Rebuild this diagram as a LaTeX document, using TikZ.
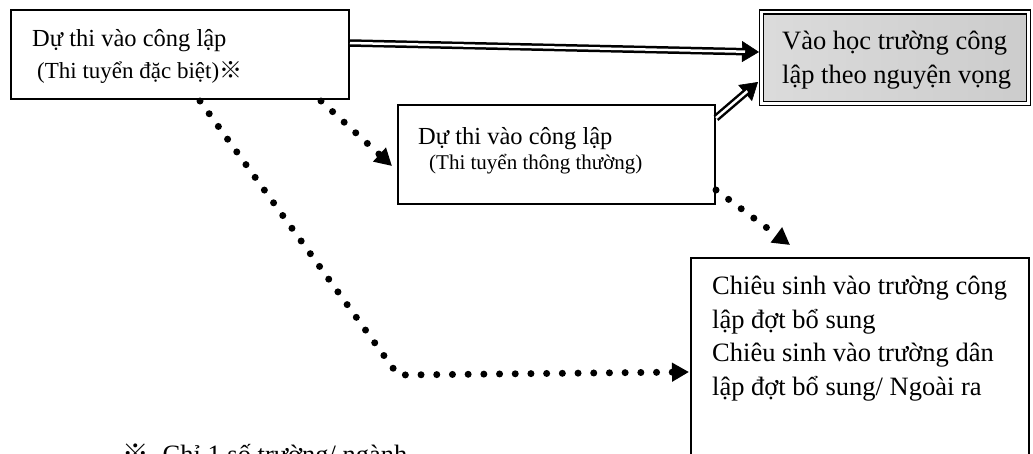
\documentclass[tikz,border=0pt]{standalone}
\usepackage{fontspec}
\setmainfont{Liberation Serif}
\newfontfamily\cjk{Noto Sans CJK JP}
\usetikzlibrary{arrows.meta,calc}
\begin{document}
\begin{tikzpicture}[x=1pt,y=-1pt,
  box/.style={draw, line width=1.8pt, inner sep=0pt, fill=white},
  big/.style={anchor=base west, inner sep=0pt, font=\fontsize{24.5}{30}\selectfont},
  multi/.style={anchor=north west, inner sep=0pt, align=left, font=\fontsize{26.5}{33.5}\selectfont},
  dotline/.style={line width=7pt, line cap=round, dash pattern=on 0pt off 15.7pt,
     -{Triangle[length=17pt,width=18pt]}},
  dblshaft/.style={line width=2.5pt, double=white, double distance=2.5pt, shorten >=14pt},
  dbltip/.style={line width=0.6pt, -{Triangle[length=17pt,width=21pt]}}]
\useasboundingbox (0,0) rectangle (1033,453);

% boxes
\node[box, minimum width=338pt, minimum height=89pt] (A) at (180,54.5) {};
\node[box, minimum width=317pt, minimum height=99pt] (B) at (556.5,154.5) {};
\node[box, minimum width=338pt, minimum height=222pt] (C) at (860,369) {};
\node[draw, line width=1.3pt, double=white, double distance=2.5pt, inner sep=0pt,
      minimum width=267pt, minimum height=91.5pt,
      left color=gray!28, middle color=gray!4, right color=gray!40] (V) at (895,57.75) {};

% texts
\node[big] (tA1) at (32,46) {Dự thi vào công lập};
\node[big, font=\fontsize{23}{28}\selectfont] (tA2) at (37,78) {(Thi tuyển đặc biệt){\cjk ※}};
\node[big] (tB1) at (418,144) {Dự thi vào công lập};
\node[big, font=\fontsize{21}{25}\selectfont] (tB2) at (429,169) {(Thi tuyển thông thường)};
\node[multi] (tV) at (782,31) {Vào học trường công\\lập theo nguyện vọng};
\node[multi] (tC) at (712,276) {Chiêu sinh vào trường công\\lập đợt bổ sung\\Chiêu sinh vào trường dân\\lập đợt bổ sung/ Ngoài ra};
\node[big, font=\fontsize{26.5}{33}\selectfont] (note) at (122,463) {{\cjk ※}\hspace{14pt}Chỉ 1 số trường/ ngành};

% connector end points
\coordinate (a1) at (350,43);
\coordinate (v1) at (759,52);
\coordinate (b1) at (716,118);
\coordinate (v2) at (758,82);
\coordinate (s1) at (200,101);
\coordinate (k1) at (398,375);
\coordinate (c1) at (689,372);
\coordinate (s2) at (321,101);
\coordinate (t2) at (392,166);
\coordinate (s3) at (716,190);
\coordinate (t3) at (790,245);

% double arrows
\draw[dbltip] (a1) -- (v1);
\draw[dblshaft] (a1) -- (v1);
\draw[dbltip] (b1) -- (v2);
\draw[dblshaft] (b1) -- (v2);

% dotted arrows
\draw[dotline] (s1) -- (k1) -- (c1);
\draw[dotline] (s2) -- (t2);
\draw[dotline] (s3) -- (t3);
\end{tikzpicture}
\end{document}
